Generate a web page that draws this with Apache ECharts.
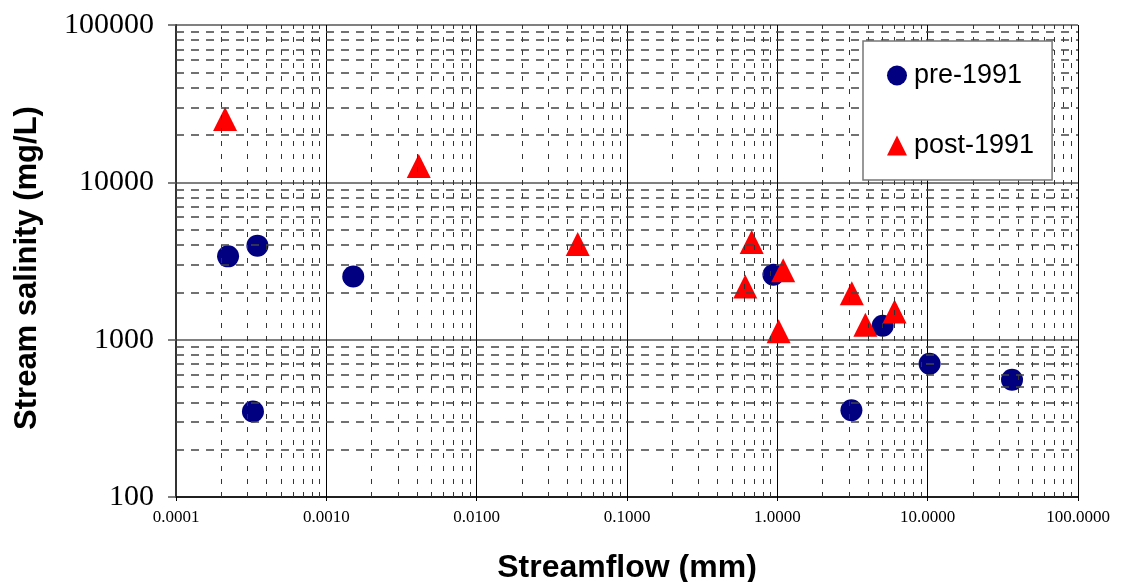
<!DOCTYPE html>
<html>
<head>
<meta charset="utf-8">
<script src="https://cdn.jsdelivr.net/npm/echarts@6/dist/echarts.min.js"></script>
<style>
  html, body { margin: 0; padding: 0; background: #fff; }
  #chart { width: 1125px; height: 582px; }
</style>
</head>
<body>
<div id="chart"></div>
<script>
// Streamflow (mm) vs stream salinity (mg/L), before and after 1991
const pre1991Flow = [0.000222, 0.000348, 0.00151, 0.000325, 0.942, 5.02, 3.11, 10.3, 36.4];
const pre1991Salinity = [3384, 3960, 2521, 349, 2588, 1227, 356, 703, 556];

const post1991Flow = [0.000212, 0.00412, 0.0470, 0.675, 0.612, 1.094, 1.02, 3.13, 3.85, 6.02];
const post1991Salinity = [25250, 12686, 4058, 4179, 2178, 2766, 1132, 1975, 1245, 1511];

const xTickLabels = ['0.0001', '0.0010', '0.0100', '0.1000', '1.0000', '10.0000', '100.0000'];
const yTickLabels = ['100', '1000', '10000', '100000'];

const seriesNames = ['pre-1991', 'post-1991'];

// minor (2..9 × decade) grid positions for the log axes
const xDecades = [0.0001, 0.001, 0.01, 0.1, 1, 10];
const yDecades = [100, 1000, 10000];
const multipliers = [2, 3, 4, 5, 6, 7, 8, 9];
const xMinorGrid = [];
xDecades.forEach(d => multipliers.forEach(m => xMinorGrid.push(+(d * m).toPrecision(3))));
const yMinorGrid = [];
yDecades.forEach(d => multipliers.forEach(m => yMinorGrid.push(d * m)));

const zip = (a, b) => a.map((v, i) => [v, b[i]]);

const chart = echarts.init(document.getElementById('chart'), null, { renderer: 'canvas' });

chart.setOption({
  animation: false,
  backgroundColor: '#ffffff',
  grid: { left: 176, right: 47, top: 25, bottom: 85, containLabel: false, outerBoundsMode: 'none' },
  legend: {
    orient: 'vertical',
    left: 863,
    top: 41,
    z: 10,
    padding: [21, 18, 21, 24],
    itemWidth: 20,
    itemHeight: 20,
    itemGap: 43,
    backgroundColor: '#ffffff',
    borderColor: '#777777',
    borderWidth: 1.5,
    itemStyle: { borderWidth: 0 },
    textStyle: { fontFamily: 'Liberation Sans', fontSize: 27, color: '#000', lineHeight: 27, padding: [0, 0, 0, 2] },
    data: [
      { name: seriesNames[0], icon: 'path://M50,0A50,50,0,1,1,49.99,0Z', itemStyle: { color: '#000080' } },
      { name: seriesNames[1], icon: 'path://M50,0L100,100L0,100Z', itemStyle: { color: '#ff0000' } }
    ]
  },
  xAxis: {
    type: 'log',
    logBase: 10,
    min: 0.0001,
    max: 100,
    name: 'Streamflow (mm)',
    nameLocation: 'middle',
    nameGap: 55,
    nameTextStyle: { fontFamily: 'Liberation Sans', fontWeight: 'bold', fontSize: 32, color: '#000', verticalAlign: 'top' },
    axisLine: { show: true, onZero: false, lineStyle: { color: '#000', width: 1.5 } },
    axisTick: { show: true, inside: false, length: 4, lineStyle: { color: '#000', width: 1 } },
    axisLabel: {
      fontFamily: 'Liberation Serif',
      fontSize: 17,
      color: '#000',
      margin: 12,
      formatter: (v, i) => xTickLabels[i]
    },
    splitLine: { show: true, lineStyle: { color: '#000', width: 1 } }
  },
  yAxis: {
    type: 'log',
    logBase: 10,
    min: 100,
    max: 100000,
    name: 'Stream salinity (mg/L)',
    nameLocation: 'middle',
    nameRotate: 90,
    nameGap: 133,
    nameTextStyle: { fontFamily: 'Liberation Sans', fontWeight: 'bold', fontSize: 31, color: '#000', padding: [0, 14, 0, 0] },
    axisLine: { show: true, onZero: false, lineStyle: { color: '#333', width: 2 } },
    axisTick: { show: true, inside: false, length: 8, lineStyle: { color: '#555', width: 1.5 } },
    axisLabel: {
      fontFamily: 'Liberation Serif',
      fontSize: 30,
      color: '#000',
      margin: 22,
      formatter: (v, i) => yTickLabels[i]
    },
    splitLine: { show: true, lineStyle: { color: '#808080', width: 2 } }
  },
  series: [
    {
      // dashed minor grid lines
      name: 'minor-grid',
      type: 'scatter',
      data: [],
      silent: true,
      z: 1,
      markLine: {
        silent: true,
        symbol: 'none',
        precision: 8,
        label: { show: false },
        emphasis: { disabled: true },
        animation: false,
        data: [
          ...xMinorGrid.map(v => ({ xAxis: v, lineStyle: { color: '#333', width: 1, type: [5, 8] } })),
          ...yMinorGrid.map(v => ({ yAxis: v, lineStyle: { color: '#444', width: 1.5, type: [8, 7] } }))
        ]
      }
    },
    {
      name: seriesNames[0],
      type: 'scatter',
      z: 3,
      symbol: 'circle',
      symbolSize: 22,
      itemStyle: { color: '#000080', opacity: 1 },
      data: zip(pre1991Flow, pre1991Salinity)
    },
    {
      name: seriesNames[1],
      type: 'scatter',
      z: 4,
      symbol: 'triangle',
      symbolSize: [24, 24],
      itemStyle: { color: '#ff0000', opacity: 1 },
      data: zip(post1991Flow, post1991Salinity)
    }
  ]
});
</script>
</body>
</html>
